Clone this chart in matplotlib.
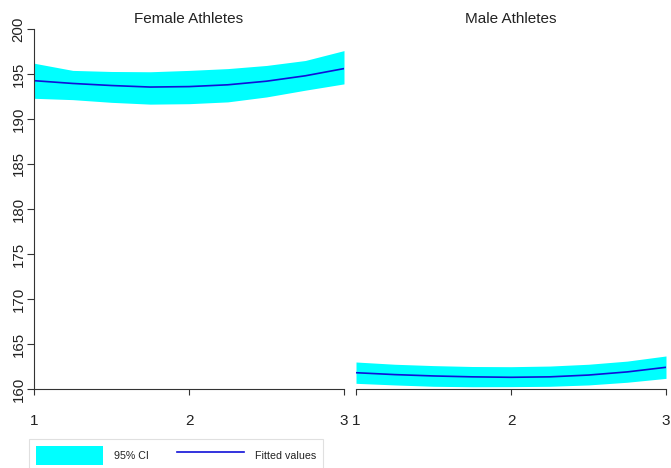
import matplotlib.pyplot as plt
from matplotlib.patches import Patch
from matplotlib.lines import Line2D

plt.rcParams['font.family'] = ['Liberation Sans', 'DejaVu Sans']

# valores
x = [1, 1.25, 1.5, 1.75, 2, 2.25, 2.5, 2.75, 3]

fem_fit = [194.26, 193.95, 193.72, 193.55, 193.6, 193.8, 194.2, 194.8, 195.6]
fem_hi = [196.2, 195.4, 195.28, 195.25, 195.4, 195.6, 195.95, 196.5, 197.6]
fem_lo = [192.3, 192.15, 191.85, 191.65, 191.7, 191.9, 192.45, 193.2, 193.9]

mal_fit = [161.81, 161.6, 161.45, 161.35, 161.3, 161.35, 161.55, 161.9, 162.41]
mal_hi = [163.0, 162.75, 162.6, 162.5, 162.48, 162.55, 162.75, 163.1, 163.67]
mal_lo = [160.63, 160.45, 160.3, 160.25, 160.26, 160.3, 160.45, 160.75, 161.18]

titulos = ['Female Athletes', 'Male Athletes']
yticks = [160, 165, 170, 175, 180, 185, 190, 195, 200]
xticks = [1, 2, 3]

W, H = 671, 468
fig = plt.figure(figsize=(W / 100, H / 100), dpi=100)

ax1 = fig.add_axes([34 / W, (H - 389) / H, 310 / W, 360 / H])
ax2 = fig.add_axes([356 / W, (H - 389) / H, 310 / W, 360 / H])

cian = '#00ffff'
azul = '#1010d8'
gris = '#333333'

for ax, fit, lo, hi, tit in [(ax1, fem_fit, fem_lo, fem_hi, titulos[0]),
                             (ax2, mal_fit, mal_lo, mal_hi, titulos[1])]:
    ax.fill_between(x, lo, hi, color=cian, linewidth=0)
    ax.plot(x, fit, color=azul, linewidth=1.2)
    ax.set_xlim(1, 3)
    ax.set_ylim(160, 200)
    ax.set_title(tit, fontsize=11, color='#222222', pad=4)
    ax.set_xticks(xticks)
    ax.tick_params(axis='x', direction='out', length=4, width=0.8, color=gris,
                   pad=14, labelsize=11, labelcolor='#222222')
    ax.spines['top'].set_visible(False)
    ax.spines['right'].set_visible(False)
    ax.spines['bottom'].set_color(gris)
    ax.spines['bottom'].set_linewidth(0.8)
    ax.spines['left'].set_color(gris)
    ax.spines['left'].set_linewidth(0.8)

ax1.set_yticks(yticks)
ax1.tick_params(axis='y', direction='out', length=5, width=0.8, color=gris,
                pad=1, labelsize=10.8, labelcolor='#222222')
for lab in ax1.get_yticklabels():
    lab.set_rotation(90)
    lab.set_va('center')

ax2.spines['left'].set_visible(False)
ax2.set_yticks([])

handles = [Patch(facecolor=cian, edgecolor='none', label='95% CI'),
           Line2D([0], [0], color=azul, linewidth=1.2, label='Fitted values')]
leg = fig.legend(handles=handles, loc='upper left', ncol=2,
                 bbox_to_anchor=(29 / W, (H - 439) / H), borderaxespad=0,
                 fontsize=7.7, handlelength=6.3, handleheight=2.3,
                 handletextpad=1.0, columnspacing=2.6, borderpad=0.65,
                 fancybox=False, framealpha=1, edgecolor='#e0e0e0')
leg.get_frame().set_linewidth(0.8)
for t in leg.get_texts():
    t.set_color('#222222')

plt.savefig('out.png', dpi=100)
